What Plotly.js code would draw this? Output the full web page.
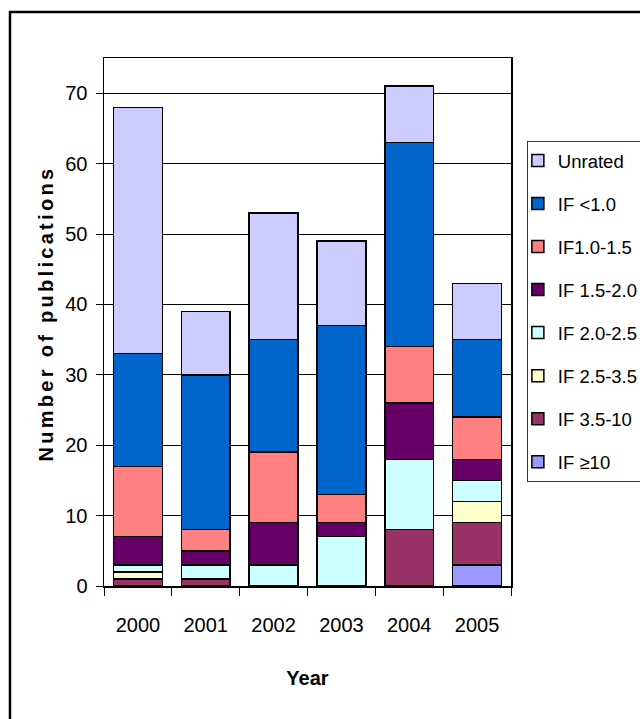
<!DOCTYPE html>
<html>
<head>
<meta charset="utf-8">
<script src="https://cdn.plot.ly/plotly-3.0.1.min.js"></script>
<style>
  html, body { margin: 0; padding: 0; background: #fff; }
  #chart { width: 640px; height: 719px; }
  .ytitle-ann, .annotation-text { letter-spacing: 3.3px; }
</style>
</head>
<body>
<div id="chart"></div>
<script>
const years = ['2000', '2001', '2002', '2003', '2004', '2005'];
const seriesNames = ['IF \u226510', 'IF 3.5-10', 'IF 2.5-3.5', 'IF 2.0-2.5', 'IF 1.5-2.0', 'IF1.0-1.5', 'IF <1.0', 'Unrated'];
const if10    = [0, 0, 0, 0, 0, 3];
const if35_10 = [1, 1, 0, 0, 8, 6];
const if25_35 = [1, 0, 0, 0, 0, 3];
const if20_25 = [1, 2, 3, 7, 10, 3];
const if15_20 = [4, 2, 6, 2, 8, 3];
const if10_15 = [10, 3, 10, 4, 8, 6];
const ifLt1   = [16, 22, 16, 24, 29, 11];
const unrated = [35, 9, 18, 12, 8, 8];
const yTicks = [0, 10, 20, 30, 40, 50, 60, 70];
const xTitle = 'Year';
const yTitle = 'Number of publications';

const seriesValues = [if10, if35_10, if25_35, if20_25, if15_20, if10_15, ifLt1, unrated];
const colors = ['#9999FF', '#993366', '#FFFFCC', '#CCFFFF', '#660066', '#FF8080', '#0066CC', '#CCCCFF'];

const FONT = '"Liberation Sans", Arial, sans-serif';

const traces = seriesValues.map((vals, i) => ({
  type: 'bar',
  name: seriesNames[i],
  x: years,
  y: vals,
  legendgroup: 'g' + i,
  legendrank: seriesValues.length - i,
  marker: { color: colors[i], line: { color: '#000', width: 1.5 } },
  hoverinfo: 'skip'
}));

const layout = {
  width: 640,
  height: 719,
  margin: { l: 104, r: 129, t: 58, b: 133, autoexpand: false },
  paper_bgcolor: '#fff',
  plot_bgcolor: '#fff',
  barmode: 'stack',
  bargap: 0.28,
  showlegend: true,
  font: { family: FONT, size: 20, color: '#000' },
  xaxis: {
    type: 'category',
    tickson: 'boundaries',
    ticks: 'outside',
    ticklen: 8,
    tickwidth: 1,
    tickcolor: '#000',
    showline: true,
    linecolor: '#000',
    linewidth: 1.5,
    mirror: true,
    showgrid: false,
    ticklabelstandoff: 20,
    tickfont: { family: FONT, size: 20, color: '#000' },
    title: { text: xTitle, font: { family: FONT, size: 20, color: '#000', weight: 'bold' }, standoff: 36 }
  },
  yaxis: {
    range: [0, 75],
    tickvals: yTicks,
    ticktext: yTicks.map(String),
    ticks: 'outside',
    ticklen: 7,
    tickwidth: 1,
    tickcolor: '#000',
    showline: true,
    linecolor: '#000',
    linewidth: 1.5,
    mirror: true,
    showgrid: true,
    gridcolor: '#000',
    gridwidth: 1,
    zeroline: false,
    ticklabelstandoff: 4,
    tickfont: { family: FONT, size: 20, color: '#000' }
  },
  annotations: [{
    text: yTitle,
    xref: 'paper', yref: 'paper',
    x: -0.1425, y: 0.516,
    xanchor: 'center', yanchor: 'middle',
    textangle: -90,
    showarrow: false,
    font: { family: FONT, size: 20, color: '#000', weight: 'bold' }
  }],
  legend: {
    x: 1.039,
    y: 0.843,
    xanchor: 'left',
    yanchor: 'top',
    traceorder: 'grouped',
    tracegroupgap: 16,
    indentation: -10,
    bordercolor: '#333',
    borderwidth: 1,
    bgcolor: '#fff',
    font: { family: FONT, size: 18.5, color: '#000' }
  },
  shapes: [{
    type: 'rect', xref: 'paper', yref: 'paper',
    x0: -0.231, x1: 1.6, y0: -0.6, y1: 1.087,
    line: { color: '#000', width: 2.5 }, fillcolor: 'rgba(0,0,0,0)', layer: 'below'
  }],
  hovermode: false
};

Plotly.newPlot('chart', traces, layout, { displayModeBar: false, staticPlot: true });
</script>
</body>
</html>
